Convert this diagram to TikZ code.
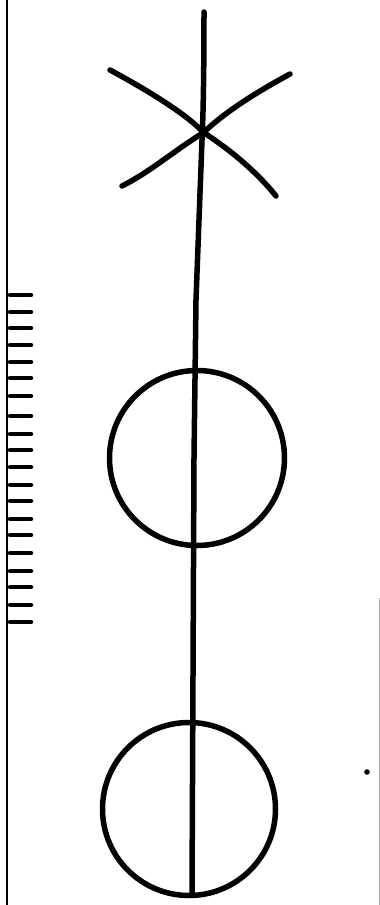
\documentclass[tikz,border=0pt]{standalone}
\begin{document}
\begin{tikzpicture}[x=1pt,y=-1pt,
  ink/.style={line width=5.5pt,line cap=round,line join=round},
  tickmark/.style={line width=4.5pt,line cap=round},
  frame/.style={line width=1.8pt}]
\useasboundingbox (0,0) rectangle (380,905);
\fill[white] (0,0) rectangle (380,905);
% left scale line
\coordinate (lt) at (7,0);
\coordinate (lb) at (7,905);
\draw[frame] (lt) -- (lb);
% ticks
\foreach \y in {295,312,328,345,362,378,396,416,434,450,467,485,501,519,535,553,571,587,605,622}{
  \coordinate (ta) at (10,\y);
  \coordinate (tb) at (31,\y);
  \draw[tickmark] (ta) -- (tb);
}
% cross
\coordinate (a1) at (110,70);
\coordinate (a2) at (276,196);
\coordinate (b1) at (290,74);
\coordinate (b2) at (122,186);
\draw[ink] (a1) .. controls (160,97) and (190,118) .. (203,132) .. controls (230,150) and (255,170) .. (a2);
\draw[ink] (b1) .. controls (255,93) and (225,112) .. (203,133) .. controls (175,150) and (150,172) .. (b2);
% circles
\node[draw,ink,circle,minimum size=175pt,inner sep=0pt] (c1) at (197,458) {};
\node[draw,ink,circle,minimum size=173pt,inner sep=0pt] (c2) at (189,809) {};
% main stem
\coordinate (top) at (204,12);
\coordinate (bot) at (192,893);
\draw[ink] (top) .. controls (204,80) and (203,120) .. (202,140) -- (196,300) -- (194,458) -- (bot);
% dot and faint edge
\coordinate (dot) at (367,772);
\fill (dot) circle (2.8pt);
\coordinate (et) at (379,598);
\coordinate (eb) at (379,905);
\draw[gray!60,line width=0.8pt] (et) -- (eb);
\end{tikzpicture}
\end{document}
